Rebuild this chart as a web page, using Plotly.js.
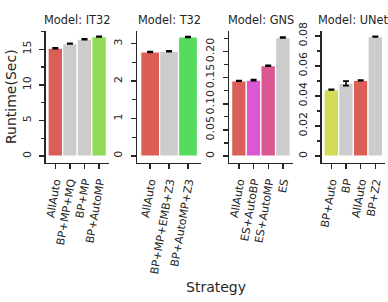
<!DOCTYPE html>
<html>
<head>
<meta charset="utf-8">
<script src="https://cdn.plot.ly/plotly-3.0.1.min.js"></script>
<style>html,body{margin:0;padding:0;background:#fff;}#chart{width:388px;height:302px;}</style>
</head>
<body>
<div id="chart"></div>
<script>
// ---- data ----
const panelTitles = ["Model: IT32", "Model: T32", "Model: GNS", "Model: UNet"];

const it32Strategies = ["AllAuto", "BP+MP+MQ", "BP+MP", "BP+AutoMP"];
const it32Runtime = [15.14, 15.78, 16.4, 16.76];
const it32Err = [0.06, 0.05, 0.05, 0.05];

const t32Strategies = ["AllAuto", "BP+MP+EMB+Z3", "BP+AutoMP+Z3"];
const t32Runtime = [2.78, 2.80, 3.18];
const t32Err = [0.01, 0.01, 0.01];

const gnsStrategies = ["AllAuto", "ES+AutoBP", "ES+AutoMP", "ES"];
const gnsRuntime = [0.144, 0.1455, 0.173, 0.227];
const gnsErr = [0.0008, 0.001, 0.001, 0.001];

const unetStrategies = ["BP+Auto", "BP", "AllAuto", "BP+Z2"];
const unetRuntime = [0.0442, 0.0484, 0.0504, 0.0796];
const unetErr = [0.0002, 0.0015, 0.0002, 0.0002];

const yTickVals1 = [0, 5, 10, 15];       const yTickText1 = ["0", "5", "10", "15"];
const yTickVals2 = [0, 1, 2, 3];         const yTickText2 = ["0", "1", "2", "3"];
const yTickVals3 = [0, 0.05, 0.10, 0.15, 0.20]; const yTickText3 = ["0", "0.05", "0.10", "0.15", "0.20"];
const yTickVals4 = [0, 0.02, 0.04, 0.06, 0.08]; const yTickText4 = ["0", "0.02", "0.04", "0.06", "0.08"];

// ---- styles ----
const RED = "#db5f57", GRAY = "#cccccc";
const it32Colors = [RED, GRAY, GRAY, "#91db57"];
const t32Colors = [RED, GRAY, "#57db5f"];
const gnsColors = [RED, "#db57d3", "#db5791", GRAY];
const unetColors = ["#d3db57", GRAY, RED, GRAY];

const W = 388, H = 302;
const INK = "#262626";
const FONT = "DejaVu Sans";

function barTrace(x, y, err, colors, ax) {
  return {
    type: "bar", x: x, y: y,
    xaxis: "x" + ax, yaxis: "y" + ax,
    marker: {color: colors, line: {color: "#ffffff", width: 1.2}},
    error_y: {type: "data", array: err, visible: true, color: "#000000", thickness: 1.6, width: 3},
    width: 1, showlegend: false, hoverinfo: "skip"
  };
}

const data = [
  barTrace(it32Strategies, it32Runtime, it32Err, it32Colors, ""),
  barTrace(t32Strategies, t32Runtime, t32Err, t32Colors, "2"),
  barTrace(gnsStrategies, gnsRuntime, gnsErr, gnsColors, "3"),
  barTrace(unetStrategies, unetRuntime, unetErr, unetColors, "4")
];

const plotTop = 31, plotBottom = 162.5;
const yDom = [1 - plotBottom / H, 1 - plotTop / H];
const xPix = [[45.7, 108.7], [137.3, 201], [229.3, 292.5], [321.7, 385]];

function xAxis(i, n) {
  return {
    domain: [xPix[i][0] / W, xPix[i][1] / W],
    anchor: i === 0 ? "y" : "y" + (i + 1),
    type: "category",
    range: n === 4 ? [-0.66, 3.66] : [-0.68, 2.69],
    showline: true, linecolor: INK, linewidth: 1.6,
    ticks: "outside", ticklen: 5, tickwidth: 1.4, tickcolor: INK,
    ticklabelstandoff: 2,
    tickangle: -80, tickfont: {family: FONT, size: 11, color: INK},
    showgrid: false, zeroline: false, fixedrange: true
  };
}
function yAxis(i, range, tv, tt, minorDtick) {
  return {
    domain: yDom,
    anchor: i === 0 ? "x" : "x" + (i + 1),
    range: range,
    showline: true, linecolor: INK, linewidth: 1.6,
    ticks: "outside", ticklen: 5, tickwidth: 1.4, tickcolor: INK,
    ticklabelstandoff: 4,
    tickmode: "array", tickvals: tv, ticktext: tt,
    tickangle: -90, tickfont: {family: FONT, size: 11, color: INK},
    minor: {dtick: minorDtick, tick0: 0, ticks: "outside", ticklen: 3.5, tickwidth: 1.2, tickcolor: INK, showgrid: false},
    showgrid: false, zeroline: false, fixedrange: true
  };
}

const annotations = panelTitles.map((t, i) => ({
  text: t, xref: "paper", yref: "paper",
  x: (xPix[i][0] + xPix[i][1]) / 2 / W, y: 1 - 20.5 / H,
  xanchor: "center", yanchor: "middle", showarrow: false,
  font: {family: FONT, size: 11.4, color: INK}
}));
annotations.push({
  text: "Runtime(Sec)", xref: "paper", yref: "paper",
  x: 10.5 / W, y: 1 - 96.5 / H, xanchor: "center", yanchor: "middle",
  textangle: -90, showarrow: false, font: {family: FONT, size: 14, color: INK}
});
annotations.push({
  text: "Strategy", xref: "paper", yref: "paper",
  x: 215.5 / W, y: 1 - 287 / H, xanchor: "center", yanchor: "middle",
  showarrow: false, font: {family: FONT, size: 14, color: INK}
});

const layout = {
  width: W, height: H,
  margin: {l: 0, r: 0, t: 0, b: 0},
  paper_bgcolor: "#ffffff", plot_bgcolor: "#ffffff",
  bargap: 0,
  xaxis: xAxis(0, 4), xaxis2: xAxis(1, 3), xaxis3: xAxis(2, 4), xaxis4: xAxis(3, 4),
  yaxis: yAxis(0, [-0.91, 17.56], yTickVals1, yTickText1, 2.5),
  yaxis2: yAxis(1, [-0.173, 3.34], yTickVals2, yTickText2, 0.5),
  yaxis3: yAxis(2, [-0.0124, 0.2395], yTickVals3, yTickText3, 0.025),
  yaxis4: yAxis(3, [-0.00432, 0.0833], yTickVals4, yTickText4, 0.01),
  annotations: annotations,
  font: {family: FONT, color: INK}
};

Plotly.newPlot("chart", data, layout, {staticPlot: true, displayModeBar: false});
</script>
</body>
</html>
